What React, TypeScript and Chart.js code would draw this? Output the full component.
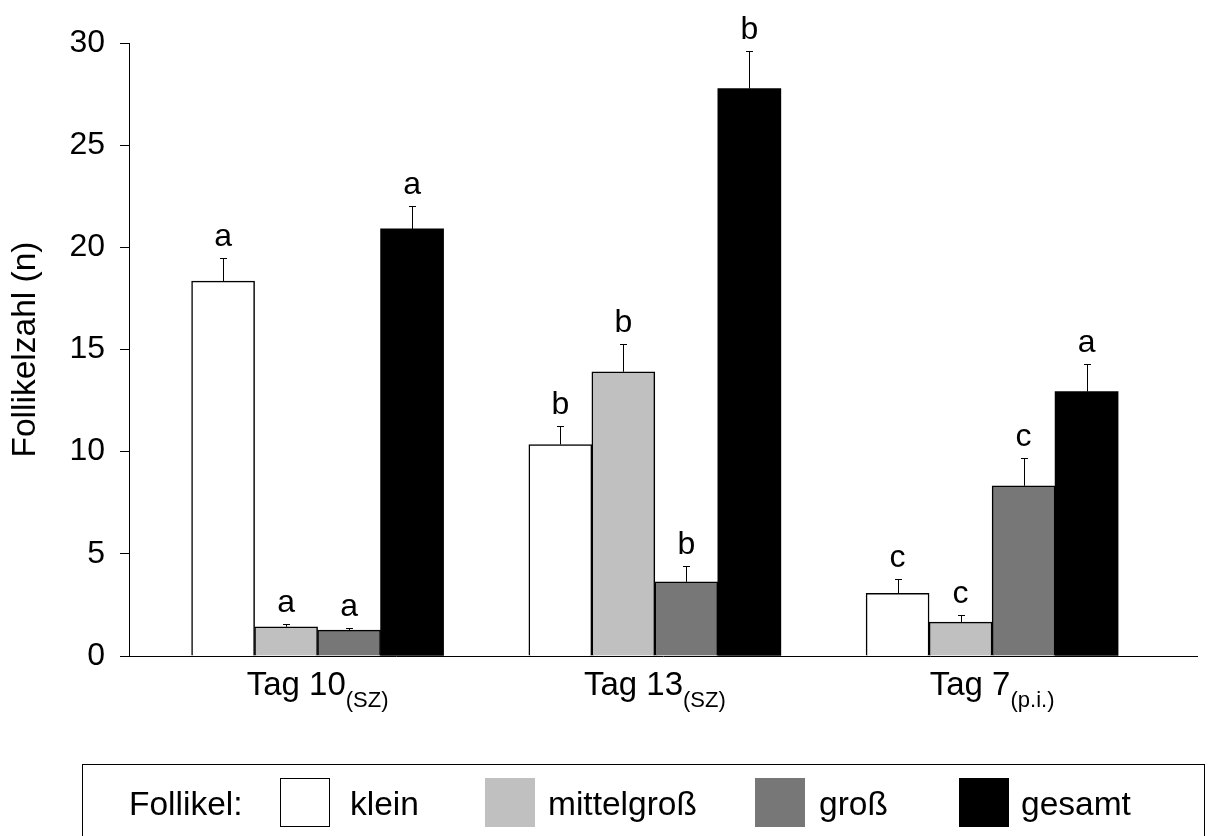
import React, { useEffect, useRef } from 'react';
import { Chart, registerables } from 'chart.js';

Chart.register(...registerables);

// ---------- data ----------
const categoryMain = ['Tag 10', 'Tag 13', 'Tag 7'];
const categorySub = ['(SZ)', '(SZ)', '(p.i.)'];
const categoryIndex = [0, 1, 2];

const seriesNames = ['klein', 'mittelgroß', 'groß', 'gesamt'];
const seriesColors = ['#ffffff', '#c0c0c0', '#777777', '#000000'];

const kleinValues = [18.35, 10.35, 3.07];
const mittelValues = [1.43, 13.91, 1.66];
const grossValues = [1.27, 3.63, 8.33];
const gesamtValues = [20.9, 27.77, 12.94];

const kleinErrors = [1.14, 0.91, 0.68];
const mittelErrors = [0.13, 1.35, 0.36];
const grossErrors = [0.08, 0.77, 1.38];
const gesamtErrors = [1.12, 1.86, 1.35];

const kleinLetters = ['a', 'b', 'c'];
const mittelLetters = ['a', 'b', 'c'];
const grossLetters = ['a', 'b', 'c'];
const gesamtLetters = ['a', 'b', 'a'];

const yMin = 0;
const yMax = 30;
const yStep = 5;
const yTitle = 'Follikelzahl (n)';
const legendTitle = 'Follikel:';

const seriesValues = [kleinValues, mittelValues, grossValues, gesamtValues];
const seriesErrors = [kleinErrors, mittelErrors, grossErrors, gesamtErrors];
const seriesLetters = [kleinLetters, mittelLetters, grossLetters, gesamtLetters];

const FONT = '"Liberation Sans", Arial, sans-serif';

const overlayPlugin = {
  id: 'overlay',
  afterDatasetsDraw(chart: any) {
    const ctx = chart.ctx as CanvasRenderingContext2D;
    const ys = chart.scales.y;
    const xs = chart.scales.x;
    ctx.save();
    // error bars + letters
    chart.data.datasets.forEach((_ds: any, di: number) => {
      const meta = chart.getDatasetMeta(di);
      meta.data.forEach((bar: any, i: number) => {
        const v = seriesValues[di][i];
        const e = seriesErrors[di][i];
        const top = ys.getPixelForValue(v);
        const et = ys.getPixelForValue(v + e);
        const bx = Math.round(bar.x) + 0.5;
        ctx.strokeStyle = '#000';
        ctx.lineWidth = 1;
        ctx.beginPath();
        ctx.moveTo(bx, top);
        ctx.lineTo(bx, Math.round(et) + 0.5);
        ctx.moveTo(bx - 3.5, Math.round(et) + 0.5);
        ctx.lineTo(bx + 3.5, Math.round(et) + 0.5);
        ctx.stroke();
        ctx.fillStyle = '#000';
        ctx.font = `32px ${FONT}`;
        ctx.textAlign = 'center';
        ctx.textBaseline = 'alphabetic';
        ctx.fillText(seriesLetters[di][i], bar.x, et - 12);
      });
    });
    // category labels with subscript
    categoryIndex.forEach((c, i) => {
      const cx = xs.getPixelForValue(c);
      ctx.font = `33px ${FONT}`;
      const w1 = ctx.measureText(categoryMain[i]).width;
      ctx.font = `22px ${FONT}`;
      const w2 = ctx.measureText(categorySub[i]).width;
      const start = cx - (w1 + w2) / 2;
      ctx.textAlign = 'left';
      ctx.textBaseline = 'alphabetic';
      ctx.fillStyle = '#000';
      ctx.font = `33px ${FONT}`;
      ctx.fillText(categoryMain[i], start, 695);
      ctx.font = `22px ${FONT}`;
      ctx.fillText(categorySub[i], start + w1, 707);
    });
    // legend
    ctx.strokeStyle = '#000';
    ctx.lineWidth = 1;
    ctx.strokeRect(82.5, 764.5, 1122, 90);
    ctx.fillStyle = '#000';
    ctx.font = `33.5px ${FONT}`;
    ctx.textAlign = 'left';
    ctx.fillText(legendTitle, 129, 815);
    const swatchX = [280, 485, 755, 959];
    const textX = [350, 548, 819, 1021];
    chart.data.datasets.forEach((ds: any, di: number) => {
      ctx.fillStyle = ds.backgroundColor;
      ctx.fillRect(swatchX[di], 778, 50, 49);
      if (di === 0) {
        ctx.strokeStyle = '#000';
        ctx.strokeRect(swatchX[di] + 0.5, 778.5, 49, 48);
      }
      ctx.fillStyle = '#000';
      ctx.font = `33.5px ${FONT}`;
      ctx.fillText(ds.label, textX[di], 815);
    });
    ctx.restore();
  },
};

export default function App() {
  const ref = useRef<HTMLCanvasElement | null>(null);
  useEffect(() => {
    if (!ref.current) return;
    const chart = new Chart(ref.current, {
      type: 'bar',
      data: {
        datasets: seriesNames.map((name, di) => ({
          label: name,
          data: categoryIndex.map((c, i) => ({ x: c, y: seriesValues[di][i] })),
          backgroundColor: seriesColors[di],
          borderColor: '#000',
          borderWidth: di === 3 ? 0 : 1.5,
          borderSkipped: 'start',
          barThickness: 63,
        })),
      },
      options: {
        responsive: false,
        animation: false,
        layout: { padding: { top: 43, right: 13, left: 0, bottom: 0 } },
        plugins: { legend: { display: false }, tooltip: { enabled: false } },
        scales: {
          x: {
            type: 'linear',
            min: -0.5592,
            max: 2.6076,
            offset: false,
            ticks: { display: false },
            grid: { display: false },
            border: { display: true, color: '#000', width: 1 },
            afterFit: (s: any) => {
              s.height = 180;
            },
          },
          y: {
            min: yMin,
            max: yMax,
            ticks: { stepSize: yStep, color: '#000', font: { family: FONT, size: 32 }, padding: 15 },
            grid: { drawOnChartArea: false, drawTicks: true, tickLength: 9, color: '#000' },
            border: { display: true, color: '#000', width: 1 },
            title: {
              display: true,
              text: yTitle,
              color: '#000',
              font: { family: FONT, size: 33.5 },
              padding: { top: 6, bottom: 0 },
            },
            afterFit: (s: any) => {
              s.width = 129;
            },
          },
        },
      } as any,
      plugins: [overlayPlugin],
    });
    return () => chart.destroy();
  }, []);
  return (
    <div style={{ position: 'absolute', left: 0, top: 0, width: 1210, height: 836, background: '#fff' }}>
      <canvas ref={ref} width={1210} height={836} style={{ display: 'block' }} />
    </div>
  );
}
